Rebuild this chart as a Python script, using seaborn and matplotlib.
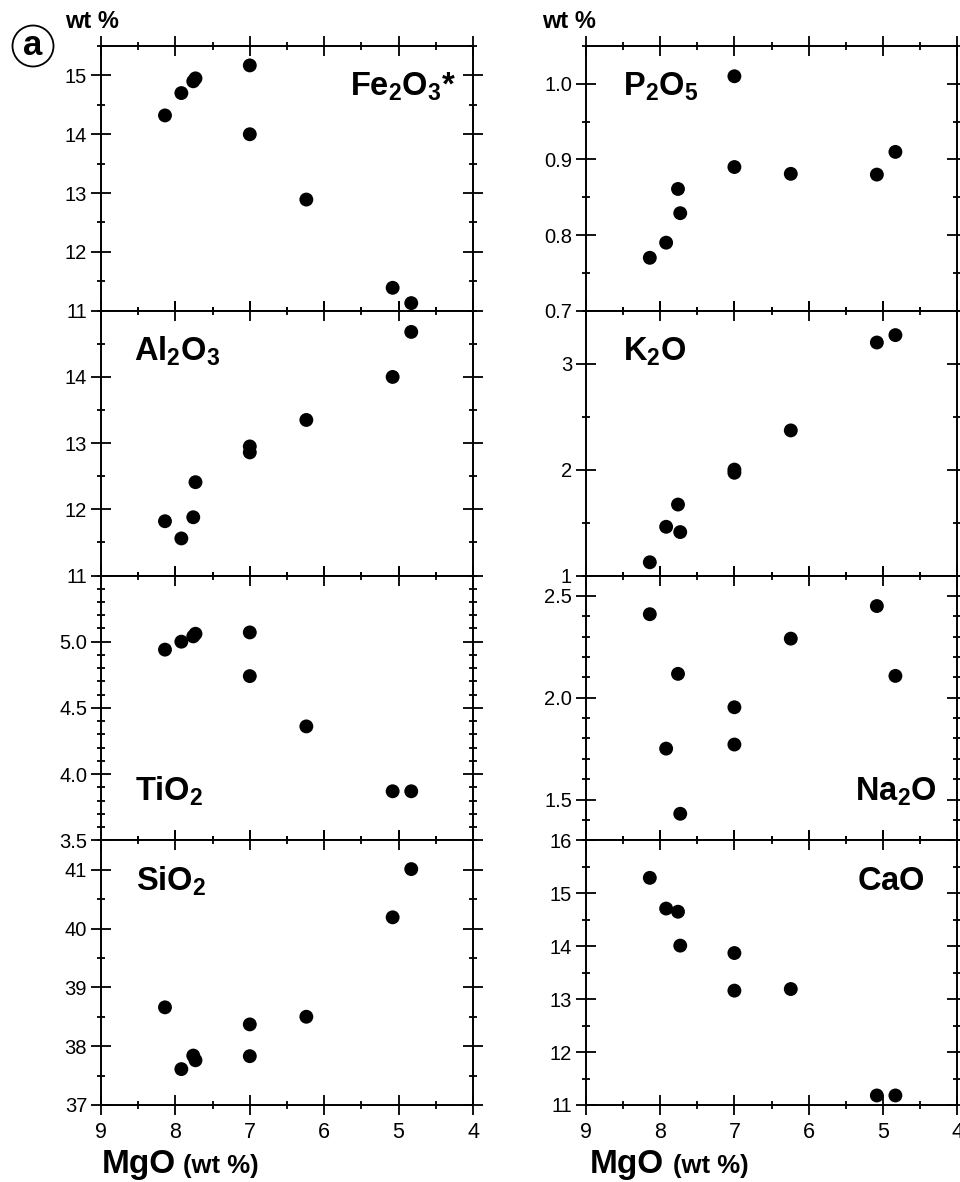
# Major-element variation diagrams vs MgO
import seaborn as sns
import matplotlib.pyplot as plt
from matplotlib.ticker import MultipleLocator, FormatStrFormatter
from matplotlib.patches import Circle

# MgO (wt %) of the nine samples (x for every panel)
mgo = [8.14, 7.92, 7.76, 7.73, 7.0, 7.0, 6.24, 5.08, 4.83]

# oxide values (wt %), same sample order as mgo
fe2o3 = [14.32, 14.70, 14.90, 14.95, 15.17, 14.00, 12.89, 11.39, 11.13]
al2o3 = [11.82, 11.56, 11.88, 12.41, 12.95, 12.86, 13.35, 14.00, 14.68]
tio2 = [4.94, 5.00, 5.04, 5.06, 5.07, 4.74, 4.36, 3.87, 3.87]
sio2 = [38.66, 37.61, 37.84, 37.76, 38.37, 37.83, 38.50, 40.19, 41.01]
p2o5 = [0.77, 0.79, 0.861, 0.829, 1.01, 0.89, 0.881, 0.88, 0.91]
k2o = [1.125, 1.46, 1.67, 1.41, 2.00, 1.97, 2.37, 3.20, 3.27]
na2o = [2.41, 1.75, 2.117, 1.43, 1.953, 1.77, 2.29, 2.45, 2.107]
cao = [15.29, 14.71, 14.65, 14.01, 13.87, 13.16, 13.19, 11.18, 11.18]

# y tick labels per panel
fe_ticks = [11, 12, 13, 14, 15]
al_ticks = [11, 12, 13, 14]
ti_ticks = [3.5, 4.0, 4.5, 5.0]
si_ticks = [37, 38, 39, 40, 41]
p_ticks = [0.7, 0.8, 0.9, 1.0]
k_ticks = [1, 2, 3]
na_ticks = [1.5, 2.0, 2.5]
ca_ticks = [11, 12, 13, 14, 15, 16]
mgo_ticks = [9, 8, 7, 6, 5, 4]

sns.set_style("ticks")
plt.rcParams['font.family'] = ['Liberation Sans', 'DejaVu Sans']
plt.rcParams['text.color'] = 'black'
plt.rcParams['mathtext.fontset'] = 'custom'
plt.rcParams['mathtext.rm'] = 'Liberation Sans'
plt.rcParams['mathtext.it'] = 'Liberation Sans:italic'
plt.rcParams['mathtext.bf'] = 'Liberation Sans:bold'

W, H = 960, 1182
fig = plt.figure(figsize=(W / 100, H / 100), dpi=100)

# panel options: column, row, values, label, ylim, ticks, minor step, format, label x, label y, ha
panels = [
    (0, 0, fe2o3, r'$\mathbf{Fe_2O_3}$*', (11, 15.5), fe_ticks, 0.5, '%d', 0.954, 0.814, 'right'),
    (0, 1, al2o3, r'$\mathbf{Al_2O_3}$', (11, 15), al_ticks, 0.5, '%d', 0.089, 0.811, 'left'),
    (0, 2, tio2, r'$\mathbf{TiO_2}$', (3.5, 5.5), ti_ticks, 0.1, '%.1f', 0.091, 0.151, 'left'),
    (0, 3, sio2, r'$\mathbf{SiO_2}$', (37, 41.5), si_ticks, 0.5, '%d', 0.094, 0.811, 'left'),
    (1, 0, p2o5, r'$\mathbf{P_2O_5}$', (0.7, 1.05), p_ticks, 0.05, '%.1f', 0.100, 0.814, 'left'),
    (1, 1, k2o, r'$\mathbf{K_2O}$', (1, 3.5), k_ticks, 0.5, '%d', 0.100, 0.811, 'left'),
    (1, 2, na2o, r'$\mathbf{Na_2O}$', (1.3, 2.6), na_ticks, 0.1, '%.1f', 0.946, 0.151, 'right'),
    (1, 3, cao, r'$\mathbf{CaO}$', (11, 16), ca_ticks, 0.5, '%d', 0.914, 0.811, 'right'),
]

col_left = [101, 586]
col_width = [372, 371]
top_px, row_h = 46, 264.75

for col, row, vals, label, ylim, ticks, minor, fmt, lx, ly, ha in panels:
    bottom_px = top_px + (row + 1) * row_h
    ax = fig.add_axes([col_left[col] / W, 1 - bottom_px / H,
                       col_width[col] / W, row_h / H])
    sns.scatterplot(x=mgo, y=vals, ax=ax, color='black', s=100,
                    edgecolor='none', legend=False, zorder=3)
    ax.set_xlim(9, 4)
    ax.set_ylim(*ylim)
    ax.set_xticks(mgo_ticks)
    ax.xaxis.set_minor_locator(MultipleLocator(0.5))
    ax.set_yticks(ticks)
    ax.yaxis.set_major_formatter(FormatStrFormatter(fmt))
    ax.yaxis.set_minor_locator(MultipleLocator(minor))
    for sp in ax.spines.values():
        sp.set_linewidth(1.4)
        sp.set_color('black')
    ax.tick_params(which='both', direction='inout', top=True, right=True,
                   bottom=True, left=True, width=1.3, color='black')
    ax.tick_params(which='major', length=14)
    ax.tick_params(which='minor', length=6)
    ax.tick_params(axis='y', labelsize=14.5, pad=3, labelcolor='black')
    ax.tick_params(axis='x', labelsize=15.5, pad=5, labelcolor='black',
                   labelbottom=(row == 3))
    ax.set_xlabel('')
    ax.set_ylabel('')
    ax.text(lx, ly, label, transform=ax.transAxes, ha=ha, va='baseline',
            fontsize=23.5, fontweight='bold', color='black')

# "wt %" over each column
fig.text(65 / W, 1 - 28 / H, 'wt %', fontsize=17, fontweight='bold', va='baseline')
fig.text(542 / W, 1 - 28 / H, 'wt %', fontsize=17, fontweight='bold', va='baseline')

# x axis titles
for x_mgo, x_unit in [(102, 183), (590, 673)]:
    fig.text(x_mgo / W, 1 - 1173 / H, 'MgO', fontsize=24, fontweight='bold', va='baseline')
    fig.text(x_unit / W, 1 - 1173 / H, '(wt %)', fontsize=18.5, fontweight='bold', va='baseline')

# circled panel letter
fig.patches.append(Circle((33 / 100, (H - 46) / 100), 0.205, transform=fig.dpi_scale_trans,
                          fill=False, edgecolor='black', linewidth=1.3))
fig.text(33 / W, 1 - 55 / H, 'a', fontsize=25, fontweight='bold', ha='center', va='baseline')

fig.savefig('out.png', dpi=100)
